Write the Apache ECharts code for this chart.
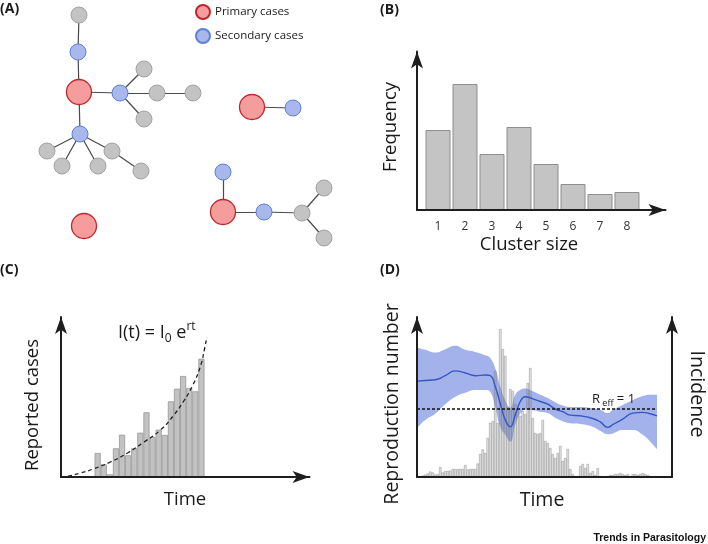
<!DOCTYPE html>
<html><head><meta charset="utf-8">
<script src="https://cdn.jsdelivr.net/npm/echarts@6/dist/echarts.min.js"></script>
<style>html,body{margin:0;padding:0;background:#fff}#c{width:708px;height:544px}</style>
</head><body><div id="c"></div>
<script>
// ---------- Panel A: transmission clusters ----------
const nodeX = [79,78,79,120,144,157,193,144,80,47,62,98,112,141,252,293,84,223,223,264,302,324,324];
const nodeY = [15,52,92,93,69,93,93,119,134,151,166,166,151,171,107,108,226,172,212,212,213,188,238];
const nodeType = [2,1,0,1,2,2,2,2,1,2,2,2,2,2,0,1,0,1,0,1,2,2,2]; // 0 primary, 1 secondary, 2 other
const edgeFrom = [0,1,2,3,3,3,5,2,8,8,8,8,12,14,17,18,19,20,20];
const edgeTo   = [1,2,3,4,5,7,6,8,9,10,11,12,13,15,18,19,20,21,22];
const caseTypes = ['Primary cases','Secondary cases','Other cases'];

// ---------- Panel B: cluster size distribution ----------
const clusterSizes = [1,2,3,4,5,6,7,8];
const clusterFreq  = [80,126,56,83,46,26,16,18];

// ---------- Panel C: exponential growth ----------
const timeC  = [6,7,8,9,10,11,12,13,14,15,16,17,18,19,20,21,22,23];
const casesC = [24,12.7,2.7,28.7,42.3,21.7,28.7,44.3,64.7,40,47.3,42,75.7,88.3,101,89,85.7,118.3];
const curveT = [0,1,3.2,5.4,8.1,10.9,13.6,16.3,18.5,20,21.6,22.9,23.5,23.9];
const curveI = [0,0.7,4,8.3,15,24,35,47,62,75,92,112,128,140];

// ---------- Panel D: reproduction number & incidence ----------
const incidenceD = [0.7,1.5,2.5,3.5,5.5,4.5,2.5,3,10,4.5, 6,6,6.5,8,8,8,8,8,12,7.5,
  8,8,8,13.5,23,27.5,24,39,54,56, 106,54,148,128,121,70,88,86,73,68,
  61,66,63,94,109,59,44,43,44,57, 36,34,29,23,19,24,31,16,19,28,
  8,3,1,1,11,13,9,13,4,6, 2,9,1,0.5,0.5,1,2,2,3,3,
  4,3,2,3,1,3,3,2,3,4, 3,2,1];
const timeR  = [-1.3,2,6,10,14,18,22,26,28,30,32,34,36,38,40,42,45,48,51,54,57,60,64,69,72,75,77,81,85,89,92,94.7];
const upperR = [1.90,1.87,1.83,1.88,1.93,1.87,1.84,1.79,1.75,1.60,1.33,1.13,1.02,1.21,1.28,1.30,1.26,1.21,1.16,1.10,1.05,1.03,1.03,1.01,0.99,0.94,0.99,1.06,1.13,1.19,1.21,1.21];
const meanR  = [1.41,1.42,1.43,1.49,1.56,1.53,1.49,1.50,1.49,1.33,1.08,0.84,0.74,0.91,1.11,1.18,1.15,1.11,1.07,1.00,0.96,0.91,0.90,0.86,0.81,0.73,0.77,0.85,0.94,0.95,0.93,0.90];
const lowerR = [0.72,0.84,0.93,1.07,1.18,1.24,1.28,1.28,1.25,1.03,0.74,0.62,0.52,0.77,0.93,0.99,0.98,0.96,0.94,0.87,0.82,0.79,0.78,0.74,0.68,0.63,0.64,0.69,0.69,0.62,0.52,0.41];
const rThreshold = 1;
const rLineT = [-1.3, 94.3];

// ---------- styles ----------
const FONT = '"Open Sans", "DejaVu Sans", sans-serif';
const INK = '#1a1a1a';
const AX = '#1e1e1e';
const typeStyle = [
  {size: 25, color: '#f59d9d', borderColor: '#c0252c', borderWidth: 1.3},
  {size: 16, color: '#a8b8ec', borderColor: '#5f80d6', borderWidth: 1},
  {size: 16, color: '#c3c3c3', borderColor: '#a2a2a2', borderWidth: 1}
];
const arrowLine = {show: true, onZero: false, symbol: ['none','arrow'], symbolSize: [9, 17], lineStyle: {color: AX, width: 2}};
const plainLine = {show: true, onZero: false, lineStyle: {color: AX, width: 2}};
function ax(extra){ return Object.assign({type:'value', z: 10, splitLine:{show:false}, axisTick:{show:false}, axisLabel:{show:false}}, extra); }

const chart = echarts.init(document.getElementById('c'), null, {renderer:'canvas'});

function txt(text, x, y, size, opts){
  opts = opts || {};
  return {type:'text', x:x, y:y, rotation: opts.rot || 0, z: 50,
    style:{text:text, fill: opts.fill || INK, font: (opts.bold?'bold ':'') + size + 'px ' + (opts.family || FONT),
      align: opts.align || 'center', verticalAlign:'middle', textAlign: opts.align || 'center', textVerticalAlign:'middle', rich: opts.rich}};
}

const nodes = nodeX.map((x,i)=>({value:[x, nodeY[i]], category: nodeType[i], symbolSize: typeStyle[nodeType[i]].size}));
const links = edgeFrom.map((s,i)=>({source: s, target: edgeTo[i]}));

const option = {
  animation: false,
  backgroundColor: '#fff',
  textStyle: {fontFamily: FONT},
  legend: {
    data: caseTypes.slice(0,2), orient:'vertical', left: 195, top: 4, padding: 0, itemWidth: 14, itemHeight: 14, itemGap: 8,
    icon: 'circle', textStyle: {fontSize: 11.5, color: INK, fontFamily: FONT}, selectedMode: false
  },
  grid: [
    {left: 0, top: 0, width: 354, height: 272},
    {left: 417, top: 51.5, width: 248.5, height: 158.5},
    {left: 61, top: 317, width: 248.5, height: 160},
    {left: 417, top: 317, width: 255, height: 160}
  ],
  xAxis: [
    ax({gridIndex:0, min:0, max:354, show:false}),
    ax({gridIndex:1, min:0.222, max:9.426, axisLine: arrowLine,
        axisLabel:{show:true, customValues: clusterSizes, fontSize:12, color:'#333', margin:11, fontFamily: FONT}}),
    ax({gridIndex:2, min:0, max:40.7, axisLine: arrowLine}),
    ax({gridIndex:3, min:-1.3, max:100.7, axisLine: plainLine})
  ],
  yAxis: [
    ax({gridIndex:0, min:0, max:272, inverse:true, show:false}),
    ax({gridIndex:1, min:0, max:158.5, axisLine: arrowLine}),
    ax({gridIndex:2, min:0, max:160, axisLine: arrowLine}),
    ax({gridIndex:3, min:0, max:160/68, axisLine: arrowLine}),
    ax({gridIndex:3, min:0, max:160, position:'right', axisLine: arrowLine})
  ],
  series: [
    {
      type:'graph', coordinateSystem:'cartesian2d', xAxisIndex:0, yAxisIndex:0, layout:'none',
      symbol:'circle', data: nodes, links: links,
      categories: caseTypes.map((n,i)=>({name:n, itemStyle:{color:typeStyle[i].color, borderColor:typeStyle[i].borderColor, borderWidth:typeStyle[i].borderWidth}})),
      lineStyle:{color:'#4a4a4a', width:1.2, opacity:1, curveness:0},
      label:{show:false}, emphasis:{disabled:true}, silent:true, z: 3
    },
    {
      type:'bar', xAxisIndex:1, yAxisIndex:1, barWidth: 25,
      data: clusterSizes.map((c,i)=>[c, clusterFreq[i]]),
      itemStyle:{color:'#c4c4c4', borderColor:'#8e8e8e', borderWidth:1}, silent:true
    },
    {
      type:'bar', xAxisIndex:2, yAxisIndex:2, barWidth: 6.1,
      data: timeC.map((t,i)=>[t, casesC[i]]),
      itemStyle:{color:'#c2c2c2', borderColor:'#979797', borderWidth:0.8}, silent:true
    },
    {
      type:'line', xAxisIndex:2, yAxisIndex:2, smooth:true, symbol:'none',
      data: curveT.map((t,i)=>[t, curveI[i]]),
      lineStyle:{color:'#222', width:1.3, type:[4,3]}, silent:true, z:4
    },
    // credible interval band: upper area in band colour, then lower area masked in white
    {
      type:'line', xAxisIndex:3, yAxisIndex:3, smooth:0.5, symbol:'none',
      data: timeR.map((t,i)=>[t, upperR[i]]), lineStyle:{opacity:0},
      areaStyle:{color:'#a4b2ec', opacity:1}, silent:true, z:1
    },
    {
      type:'line', xAxisIndex:3, yAxisIndex:3, smooth:0.5, symbol:'none',
      data: timeR.map((t,i)=>[t, lowerR[i]]), lineStyle:{opacity:0},
      areaStyle:{color:'#ffffff', opacity:1}, silent:true, z:1
    },
    {
      type:'bar', xAxisIndex:3, yAxisIndex:4, barWidth: 2.5,
      data: incidenceD.map((v,i)=>[i, v]),
      itemStyle:{color:'rgba(150,150,150,0.26)', borderColor:'rgba(110,110,110,0.6)', borderWidth:0.6}, silent:true, z:2
    },
    {
      type:'line', xAxisIndex:3, yAxisIndex:3, smooth:0.5, symbol:'none',
      data: timeR.map((t,i)=>[t, meanR[i]]), lineStyle:{color:'#3457c4', width:1.4}, silent:true, z:4
    },
    {
      type:'line', xAxisIndex:3, yAxisIndex:3, symbol:'none',
      data: rLineT.map(t=>[t, rThreshold]), lineStyle:{color:'#111', width:1.4, type:[3,2]}, silent:true, z:5
    }
  ],
  graphic: [
    txt('(A)', 0, 9, 14, {bold:true, align:'left'}),
    txt('(B)', 380, 10, 14, {bold:true, align:'left'}),
    txt('(C)', 0, 270, 14, {bold:true, align:'left'}),
    txt('(D)', 380, 270, 14, {bold:true, align:'left'}),
    txt('Frequency', 391, 127, 18.5, {rot: Math.PI/2}),
    txt('Cluster size', 529, 245, 18.5),
    txt('Reported cases', 33, 405, 18.5, {rot: Math.PI/2}),
    txt('Time', 185, 500, 18.5),
    txt('{a|I(t) = I}{b|0}{a| e}{c|rt}', 118, 333, 18, {align:'left', rich:{
      a:{fontSize:18, lineHeight:24, fontFamily:FONT, color:INK},
      b:{fontSize:12, lineHeight:12, verticalAlign:'bottom', fontFamily:FONT, color:INK},
      c:{fontSize:12, lineHeight:14, verticalAlign:'top', fontFamily:FONT, color:INK}}}),
    txt('Reproduction number', 392, 404, 19.5, {rot: Math.PI/2}),
    txt('Incidence', 697, 394, 19.5, {rot: -Math.PI/2}),
    txt('Time', 542, 500, 19.5),
    txt('{a|R}{b| eff}{a| = 1}', 592, 399, 13, {align:'left', rich:{
      a:{fontSize:13, lineHeight:18, fontFamily:FONT, color:INK},
      b:{fontSize:9, lineHeight:10, verticalAlign:'bottom', fontFamily:FONT, color:INK}}}),
    txt('Trends in Parasitology', 706, 538, 10.5, {bold:true, align:'right', family:'"Liberation Sans", Arial, sans-serif', fill:'#111'})
  ]
};
chart.setOption(option);
</script>
</body></html>
